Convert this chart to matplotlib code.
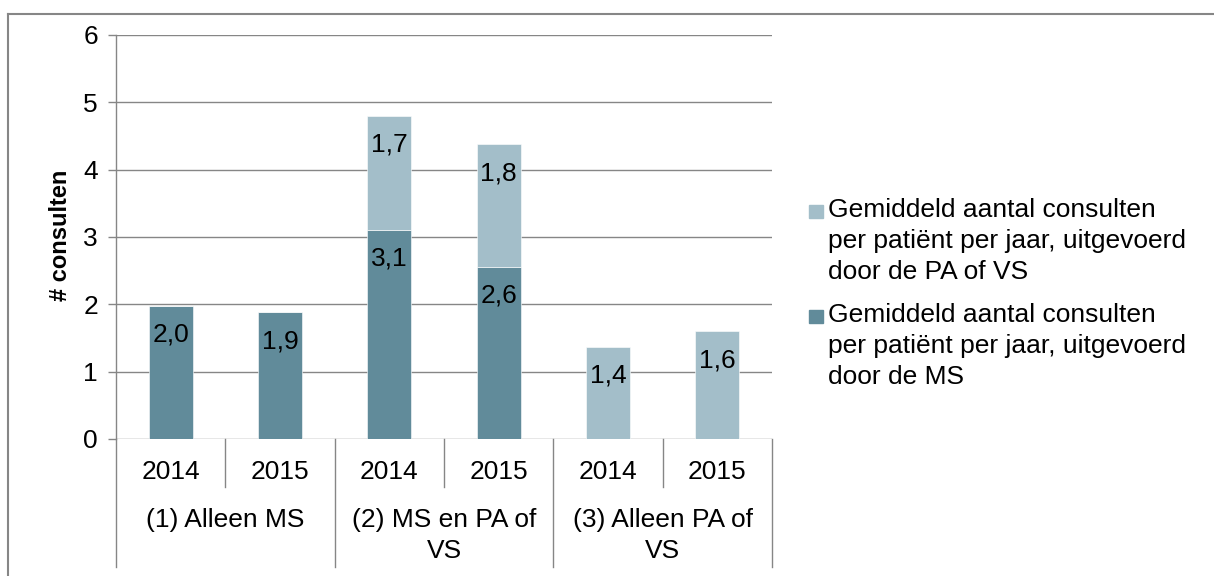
import matplotlib
matplotlib.use("Agg")
import matplotlib.pyplot as plt
from matplotlib.lines import Line2D
from matplotlib.patches import Rectangle

plt.rcParams['font.family'] = ['Liberation Sans', 'DejaVu Sans']

years = ["2014", "2015", "2014", "2015", "2014", "2015"]
groups = ["(1) Alleen MS", "(2) MS en PA of\nVS", "(3) Alleen PA of\nVS"]
ms_values = [1.98, 1.88, 3.11, 2.56, 0.0, 0.0]
pa_values = [0.0, 0.0, 1.69, 1.82, 1.37, 1.60]
ms_labels = ["2,0", "1,9", "3,1", "2,6", "", ""]
pa_labels = ["", "", "1,7", "1,8", "1,4", "1,6"]
legend_labels = ["Gemiddeld aantal consulten\nper patiënt per jaar, uitgevoerd\ndoor de PA of VS",
                 "Gemiddeld aantal consulten\nper patiënt per jaar, uitgevoerd\ndoor de MS"]
yticks = [0, 1, 2, 3, 4, 5, 6]

c_ms = "#618b9a"
c_pa = "#a3bec9"
grid_c = "#868686"
FS = 19

W, H = 1214, 576
fig = plt.figure(figsize=(W / 100, H / 100), dpi=100)

ax_l, ax_r, ax_t, ax_b = 116, 772, 35, 439
ax = fig.add_axes([ax_l / W, 1 - ax_b / H, (ax_r - ax_l) / W, (ax_b - ax_t) / H])

x = list(range(len(years)))
bw = 0.40
ax.bar(x, ms_values, width=bw, color=c_ms, edgecolor="white", linewidth=0.4, zorder=3)
ax.bar(x, pa_values, width=bw, bottom=ms_values, color=c_pa, edgecolor="white", linewidth=0.4, zorder=3)

# data labels at "inside end" of each segment
for i in x:
    if ms_labels[i]:
        ax.annotate(ms_labels[i], xy=(i, ms_values[i]), xytext=(0, -29), textcoords="offset pixels",
                    ha="center", va="center", fontsize=FS, zorder=4)
    if pa_labels[i]:
        ax.annotate(pa_labels[i], xy=(i, ms_values[i] + pa_values[i]), xytext=(0, -29),
                    textcoords="offset pixels", ha="center", va="center", fontsize=FS, zorder=4)

ax.set_xlim(-0.5, len(years) - 0.5)
ax.set_ylim(0, 6)
ax.set_yticks(yticks)
ax.set_yticklabels([str(v) for v in yticks], fontsize=FS)
ax.tick_params(axis="y", length=6, width=1.0, color=grid_c, pad=7)
ax.set_xticks([])
for s in ["top", "right", "bottom"]:
    ax.spines[s].set_visible(False)
ax.spines["left"].set_color(grid_c)
ax.spines["left"].set_linewidth(1.0)
ax.yaxis.grid(True, color=grid_c, linewidth=1.0, zorder=0)
ax.set_axisbelow(True)
ax.set_ylabel("# consulten", fontsize=17, fontweight="bold")
ax.yaxis.set_label_coords(-44 / (ax_r - ax_l), 0.505)

# category axis
ah = ax_b - ax_t
tr = ax.get_xaxis_transform()
for i, y in enumerate(years):
    ax.text(i, -(472 - ax_b) / ah, y, transform=tr, ha="center", va="center", fontsize=FS,
            clip_on=False)
for k in range(len(years) + 1):
    xb = k - 0.5
    depth = 128 if k % 2 == 0 else 48
    ax.add_line(Line2D([xb, xb], [0, -depth / ah], transform=tr, color=grid_c, lw=1.0,
                       clip_on=False))
for g, label in enumerate(groups):
    ax.text(2 * g + 0.5, -(508 - ax_b) / ah, label, transform=tr, ha="center", va="top",
            fontsize=FS, linespacing=1.38, clip_on=False)

# legend
leg_colors = [c_pa, c_ms]
leg_y = [212, 317]
for col, yy, lab in zip(leg_colors, leg_y, legend_labels):
    fig.patches.append(Rectangle((809 / W, 1 - (yy + 6) / H), 14 / W, 13 / H,
                                 transform=fig.transFigure, color=col))
    fig.text(828 / W, 1 - (yy - 14) / H, lab, ha="left", va="top", fontsize=FS,
             linespacing=1.38)

# outer frame
fig.add_artist(Line2D([8 / W, 8 / W], [0, 1 - 14 / H], transform=fig.transFigure,
                      color=grid_c, lw=1.5))
fig.add_artist(Line2D([8 / W, 1], [1 - 14 / H, 1 - 14 / H], transform=fig.transFigure,
                      color=grid_c, lw=1.5))

fig.savefig("out.png", dpi=100)
